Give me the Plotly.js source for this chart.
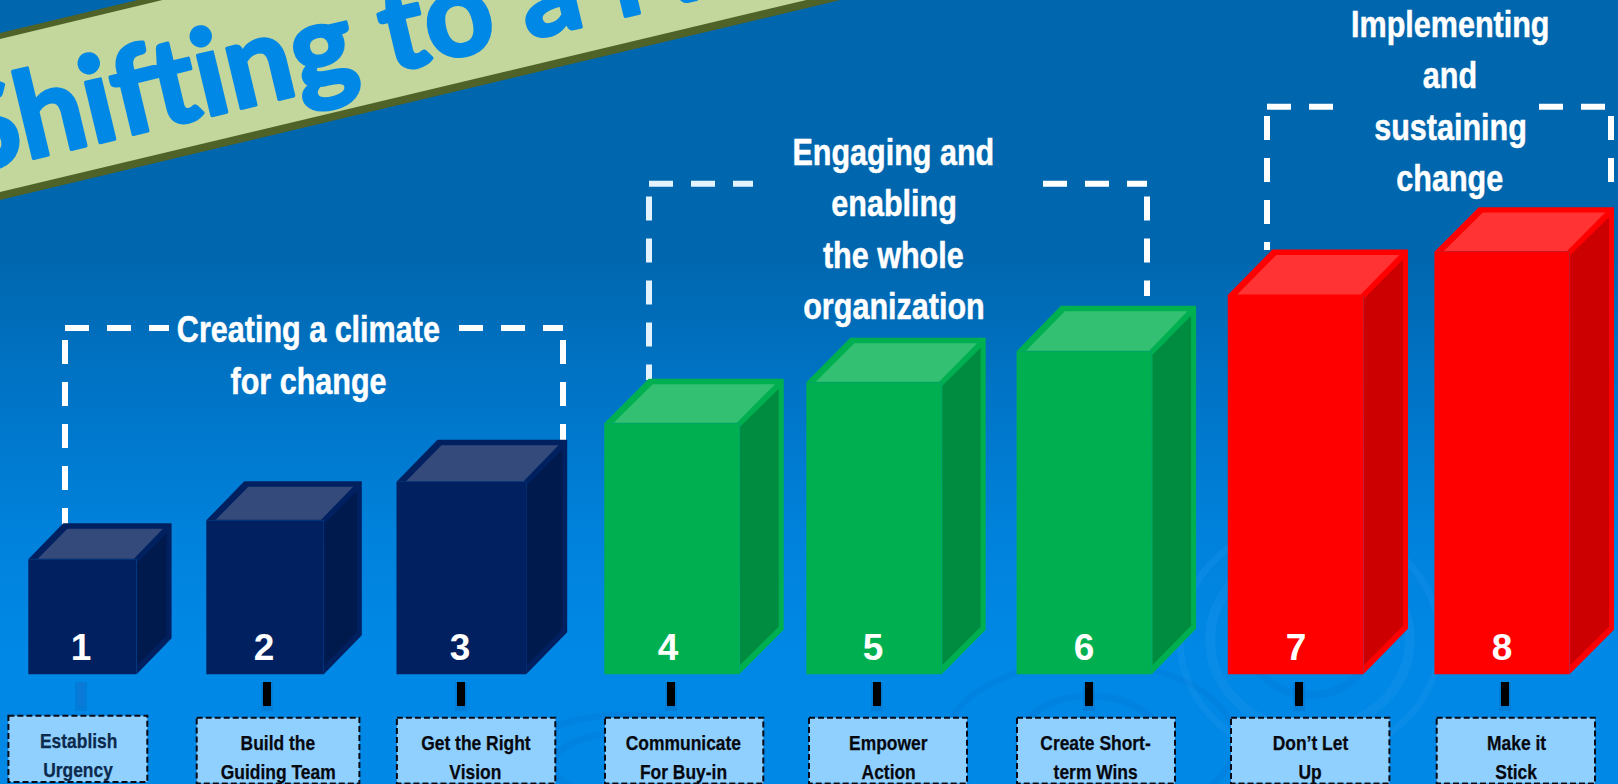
<!DOCTYPE html>
<html>
<head>
<meta charset="utf-8">
<title>Eight steps of change</title>
<script src="https://cdn.plot.ly/plotly-3.0.1.min.js"></script>
<style>
  html, body { margin: 0; padding: 0; width: 1618px; height: 784px; overflow: hidden; }
  body { background: linear-gradient(180deg, #0066ad 0px, #0067af 260px, #0075c8 400px, #0082dc 540px, #0088e6 650px, #0088e6 784px); }
  #chart { width: 1618px; height: 784px; }
</style>
</head>
<body>
<div id="chart"></div>
<script>
// Steps of the staircase, left to right
const stepNumbers = ["1", "2", "3", "4", "5", "6", "7", "8"];
const stepHeights = [115, 154, 192.5, 251, 292, 323, 379.3, 422.6];
const stepLabelFirst = ["Establish", "Build the", "Get the Right", "Communicate", "Empower", "Create Short-", "Don\u2019t Let", "Make it"];
const stepLabelSecond = ["Urgency", "Guiding Team", "Vision", "For Buy-in", "Action", "term Wins", "Up", "Stick"];
const stepGroups = [0, 0, 0, 1, 1, 1, 2, 2];

// Phase headings above the steps
const phaseLines = [
  ["Creating a climate", "for change"],
  ["Engaging and", "enabling", "the whole", "organization"],
  ["Implementing", "and", "sustaining", "change"]
];
const bannerText = "Shifting to a New";

// Geometry of the page: one axis unit is one pixel, zero sits on the floor of the boxes
const WIDTH = 1618, HEIGHT = 784, FLOOR = 674.3;
const Y = px => FLOOR - px;
const frontLeft = [28.3, 206.3, 396.5, 604.3, 806.3, 1016.6, 1227.8, 1434.4];
const frontWidth = [108.3, 117.5, 129.7, 135, 135.4, 135.2, 135.6, 135.2];
const depthX = [35, 38, 41, 44.4, 44, 44.3, 44.6, 44.4];
const depthY = [36, 39, 42, 44.5, 44.5, 45.5, 45.5, 44.5];
const numberX = [81, 264, 460, 668, 873, 1084, 1296, 1502];
const tickX = [81, 267, 461, 671, 877, 1089, 1299, 1505];
const tickColor = ["#0a7ad8", "#000000", "#000000", "#000000", "#000000", "#000000", "#000000", "#000000"];
const boxLeft = [8.4, 196.7, 396.9, 605, 809, 1017, 1231, 1436.7];
const boxRight = [147.3, 359.4, 555.3, 763.3, 967, 1175, 1389.4, 1595];
const boxTop = [715.7, 717.7, 717.7, 717.7, 717.7, 717.7, 717.7, 717.7];
const boxBottom = [782, 783.4, 783.4, 783.4, 783.4, 783.4, 783.4, 783.4];
const labelX = [78, 278, 475.7, 683.7, 888, 1095.8, 1310, 1516];
const phaseX = [308.6, 893.7, 1450];
const phaseY = [[329, 381], [152, 203, 255, 306.5], [24, 75, 127, 178.5]];

const palette = [
  { front: "#002060", top: "#344a7b", side: "#001a4d" },
  { front: "#00b050", top: "#33c073", side: "#008c40" },
  { front: "#ff0000", top: "#ff3333", side: "#cc0000" }
];

// Polygons for the rim, lit top and shaded side of every box, grouped by phase
function facePolygons(group) {
  const rim = { x: [], y: [] }, top = { x: [], y: [] }, side = { x: [], y: [] };
  const push = (face, pts) => {
    pts.forEach(p => { face.x.push(p[0]); face.y.push(p[1]); });
    face.x.push(null); face.y.push(null);
  };
  stepHeights.forEach((h, i) => {
    if (stepGroups[i] !== group) return;
    const l = frontLeft[i], r = l + frontWidth[i], dx = depthX[i], dy = depthY[i];
    push(rim, [[l, h], [l + dx, h + dy], [r + dx, h + dy], [r + dx, dy], [r, 0], [r, h]]);
    push(top, [[l + 9.5, h + 0.6], [l + dx + 4, h + dy - 5.4], [r + dx - 8.7, h + dy - 5.4], [r - 2.6, h + 0.6]]);
    push(side, [[r + 0.7, h - 3.4], [r + dx - 5, h + dy - 10], [r + dx - 5, dy + 3], [r + 0.7, 9.3]]);
  });
  return [rim, top, side];
}

const traces = [{
  type: "bar",
  x: frontLeft.map((l, i) => l + frontWidth[i] / 2),
  y: stepHeights,
  width: frontWidth,
  marker: { color: stepGroups.map(g => palette[g].front), line: { width: 0 } },
  hoverinfo: "skip",
  showlegend: false
}];

palette.forEach((colors, group) => {
  const faces = facePolygons(group);
  [colors.front, colors.top, colors.side].forEach((fill, f) => {
    traces.push({
      type: "scatter", mode: "lines", x: faces[f].x, y: faces[f].y,
      fill: "toself", fillcolor: fill, line: { width: 0 },
      hoverinfo: "skip", showlegend: false
    });
  });
});

traces.push({
  type: "scatter", mode: "text", x: numberX, y: stepNumbers.map(() => 23.5),
  text: stepNumbers,
  textfont: { family: "Liberation Sans, Arial, sans-serif", size: 37, color: "#ffffff", weight: 700 },
  textposition: "middle center", hoverinfo: "skip", showlegend: false, cliponaxis: false
});

// Soft water rings behind everything
const ring = (cx, cy, rx, ry, w, color) => ({
  type: "circle", layer: "below", xref: "x", yref: "y",
  x0: cx - rx, x1: cx + rx, y0: Y(cy + ry), y1: Y(cy - ry),
  line: { width: w, color: color }, fillcolor: "rgba(0,0,0,0)"
});
const lightRing = "rgba(30,150,240,0.30)", darkRing = "rgba(0,100,190,0.14)";
const shapes = [
  ring(1310, 640, 100, 90, 10, lightRing),
  ring(1310, 640, 62, 55, 8, darkRing),
  ring(1310, 640, 130, 118, 7, lightRing),
  ring(625, 765, 110, 50, 7, darkRing),
  ring(625, 765, 72, 32, 7, darkRing),
  ring(1090, 742, 72, 46, 7, darkRing),
  ring(1090, 742, 42, 24, 6, darkRing),
  ring(1090, 742, 145, 80, 6, darkRing)
];

// The banner running across the top corner
const bannerEdge = (a, b, c, d) => `M${a[0]} ${Y(a[1])} L${b[0]} ${Y(b[1])} L${c[0]} ${Y(c[1])} L${d[0]} ${Y(d[1])} Z`;
shapes.push(
  { type: "path", layer: "below", xref: "x", yref: "y", path: bannerEdge([-40, 42.6], [190, -12.6], [874, -8], [-40, 209.5]), fillcolor: "#4f6228", line: { width: 0 } },
  { type: "path", layer: "below", xref: "x", yref: "y", path: bannerEdge([-40, 48.6], [215, -12.6], [840, -8], [-40, 201.5]), fillcolor: "#c3d69b", line: { width: 0 } }
);

// Dashed brackets around each phase; the boxes are drawn over their lower ends
const dashed = (x0, y0, x1, y1, color) => ({
  type: "line", layer: "below", xref: "x", yref: "y",
  x0: x0, y0: Y(y0), x1: x1, y1: Y(y1),
  line: { color: color, width: 6, dash: "24px,18px" }
});
const bracketWhite = "#ffffff", bracketPale = "#e2f3ff";
shapes.push(
  dashed(65, 328, 169, 328, bracketWhite), dashed(459, 328, 563, 328, bracketWhite),
  dashed(65, 340, 65, 526, bracketWhite), dashed(563, 340, 563, 440, bracketWhite),
  dashed(649, 183.7, 753, 183.7, bracketPale), dashed(1043, 183.7, 1147, 183.7, bracketWhite),
  dashed(649, 196.5, 649, 380, bracketPale), dashed(1147, 196.5, 1147, 296, bracketWhite),
  dashed(1267, 106.7, 1333, 106.7, bracketWhite), dashed(1539, 106.7, 1605, 106.7, bracketWhite),
  dashed(1267, 116, 1267, 250, bracketWhite), dashed(1611, 116, 1611, 182, bracketWhite)
);

// Ticks and label cards below the floor
tickX.forEach((x, i) => {
  shapes.push({
    type: "rect", layer: "below", xref: "x", yref: "y",
    x0: x - 6, x1: x + 6, y0: Y(682), y1: Y(711),
    fillcolor: "rgba(0,40,90,0.10)", line: { width: 0 }
  });
  shapes.push({
    type: "rect", layer: "below", xref: "x", yref: "y",
    x0: x - 4, x1: x + 4, y0: Y(682), y1: Y(706),
    fillcolor: tickColor[i], line: { width: 0 }
  });
  shapes.push({
    type: "rect", layer: "below", xref: "x", yref: "y",
    x0: boxLeft[i], x1: boxRight[i], y0: Y(boxTop[i]), y1: Y(boxBottom[i]),
    fillcolor: "#90d0ff", line: { color: "#0a0a14", width: 2, dash: "6px,3px" }
  });
});

const annotations = [];
const textNote = (text, x, y, family, size, color) => ({
  text: text, x: x, y: Y(y), xref: "x", yref: "y",
  xanchor: "center", yanchor: "middle", showarrow: false,
  font: { family: family, size: size, color: color, weight: 700 }
});
const SANS = "Liberation Sans, Arial, sans-serif";

phaseLines.forEach((lines, p) => {
  lines.forEach((line, j) => annotations.push(textNote(line, phaseX[p], phaseY[p][j], SANS, 37, "#ffffff")));
});
stepLabelFirst.forEach((line, i) => {
  const color = i === 0 ? "#0b2a4c" : "#06080f";
  const lift = i === 0 ? 2 : 0;
  annotations.push(textNote(line, labelX[i], 742.7 - lift, SANS, 21, color));
  annotations.push(textNote(stepLabelSecond[i], labelX[i], 771.7 - lift, SANS, 21, color));
});

const banner = textNote(bannerText, 400, 23, "Lato, sans-serif", 120, "#0088e6");
banner.textangle = -13.5;
annotations.push(banner);

const layout = {
  width: WIDTH, height: HEIGHT,
  margin: { l: 0, r: 0, t: 0, b: 0 },
  paper_bgcolor: "rgba(0,0,0,0)", plot_bgcolor: "rgba(0,0,0,0)",
  showlegend: false, hovermode: false, barmode: "overlay",
  xaxis: { range: [0, WIDTH], visible: false, fixedrange: true },
  yaxis: { range: [Y(HEIGHT), Y(0)], visible: false, fixedrange: true },
  shapes: shapes, annotations: annotations
};

// Horizontal scaling and added stroke weight of the typeface, per text size
const condense = { "37px": [0.825, 0.5], "21px": [0.83, 0.25], "120px": [1, 3.5] };

Plotly.newPlot("chart", traces, layout, { displayModeBar: false, staticPlot: true }).then(gd => {
  gd.querySelectorAll(".annotation-text").forEach(el => {
    const style = condense[el.style.fontSize];
    if (!style) return;
    el.setAttribute("textLength", (el.getComputedTextLength() * style[0]).toFixed(1));
    el.setAttribute("lengthAdjust", "spacingAndGlyphs");
    el.style.stroke = el.style.fill;
    el.style.strokeWidth = style[1] + "px";
    el.style.strokeLinejoin = "round";
  });
});
</script>
</body>
</html>
